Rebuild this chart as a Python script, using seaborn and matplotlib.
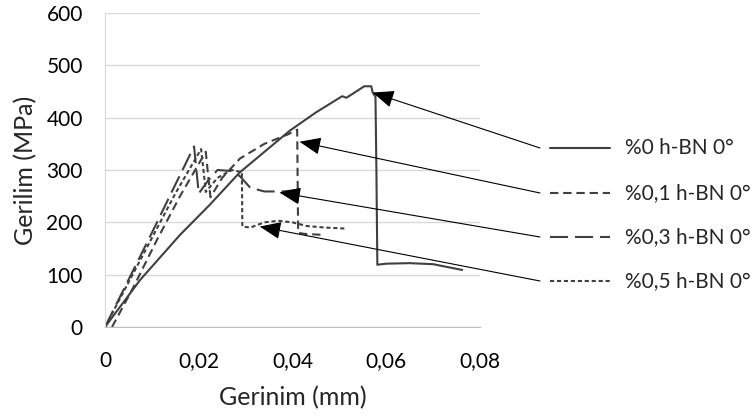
import seaborn as sns
import matplotlib.pyplot as plt
from matplotlib.lines import Line2D
from matplotlib.ticker import FuncFormatter

# gerilim-gerinim verileri
x_0 = [0, 0.0075, 0.016, 0.0224, 0.0287, 0.0394, 0.045, 0.0506, 0.0515, 0.0536,
       0.0553, 0.0568, 0.0571, 0.0577, 0.0579, 0.0581, 0.060, 0.065, 0.070, 0.0762]
y_0 = [0, 90, 176, 234, 295, 375, 410, 441, 438, 450,
       460, 460, 448, 440, 300, 119, 121, 122, 120, 109]

x_01 = [0.0015, 0.006, 0.011, 0.016, 0.0215, 0.022, 0.0225, 0.025, 0.0288, 0.034,
        0.039, 0.041, 0.0412, 0.0425, 0.0465]
y_01 = [0, 75, 165, 250, 335, 290, 248, 285, 322, 350,
        368, 377, 180, 178, 176]

x_03 = [0, 0.005, 0.010, 0.015, 0.019, 0.0195, 0.020, 0.022, 0.024, 0.027,
        0.0288, 0.031, 0.034, 0.038, 0.0425]
y_03 = [0, 90, 180, 272, 345, 300, 255, 280, 300, 298,
        288, 266, 259, 259, 263]

x_05 = [0, 0.005, 0.010, 0.015, 0.0205, 0.021, 0.0215, 0.024, 0.027, 0.0292,
        0.0293, 0.031, 0.034, 0.037, 0.040, 0.043, 0.047, 0.0515]
y_05 = [0, 85, 170, 255, 340, 300, 258, 285, 300, 296,
        192, 190, 200, 203, 200, 193, 190, 188]

labels = ["%0 h-BN 0°", "%0,1 h-BN 0°", "%0,3 h-BN 0°", "%0,5 h-BN 0°"]
arrow_tips = [(0.0571, 448), (0.0415, 354), (0.0372, 257), (0.0330, 192)]

sns.set_style("white")
plt.rcParams['font.family'] = ['Lato', 'DejaVu Sans']
plt.rcParams['lines.scale_dashes'] = False

W, H = 754, 419
fig = plt.figure(figsize=(W / 100, H / 100), dpi=100)
ax = fig.add_axes([105 / W, 1 - 327 / H, 375 / W, 314 / H])

col = "#404040"
fs = 15
styles = ["-", (0, (6, 3.5)), (0, (13, 5)), (0, (3, 2))]
series = [(x_0, y_0), (x_01, y_01), (x_03, y_03), (x_05, y_05)]
for (xs, ys), ls in zip(series, styles):
    sns.lineplot(x=xs, y=ys, sort=False, estimator=None, ax=ax,
                 color=col, linestyle=ls, linewidth=1.5)

ax.set_xlim(0, 0.08)
ax.set_ylim(0, 600)
ax.set_xticks([0, 0.02, 0.04, 0.06, 0.08])
ax.set_yticks(range(0, 601, 100))
ax.xaxis.set_major_formatter(FuncFormatter(lambda v, p: "0" if v == 0 else f"{v:.2f}".replace(".", ",")))
ax.yaxis.grid(True, color="#d9d9d9", linewidth=1)
ax.set_axisbelow(True)
for s in ["top", "right"]:
    ax.spines[s].set_visible(False)
ax.spines["left"].set_color("#d9d9d9")
ax.spines["bottom"].set_color("#bfbfbf")
ax.tick_params(axis="both", length=0, labelsize=fs, colors="black")
ax.tick_params(axis="y", pad=16)
ax.tick_params(axis="x", pad=17)
ax.set_xlabel("Gerinim (mm)", fontsize=18, va="center")
ax.set_ylabel("Gerilim (MPa)", fontsize=18, va="center")
ax.xaxis.set_label_coords(0.5, (327 - 398) / 314)
ax.yaxis.set_label_coords((26 - 105) / 375, 0.5)

# etiketler ve oklar
legend_y = [148, 193, 237, 281]
for lab, ls, ly, tip in zip(labels, styles, legend_y, arrow_tips):
    yf = 1 - ly / H
    ax.annotate("", xy=tip, xycoords="data", xytext=(540 / W, yf),
                textcoords="figure fraction", annotation_clip=False,
                arrowprops=dict(arrowstyle="-|>,head_length=1.1,head_width=0.45",
                                color="black", lw=0.8, mutation_scale=12,
                                shrinkA=0, shrinkB=0))
    fig.add_artist(Line2D([550 / W, 610 / W], [yf, yf], color=col,
                          linestyle=ls, linewidth=1.5))
    fig.text(625 / W, yf, lab, fontsize=fs, va="center", ha="left")

plt.savefig("out.png", dpi=100)
